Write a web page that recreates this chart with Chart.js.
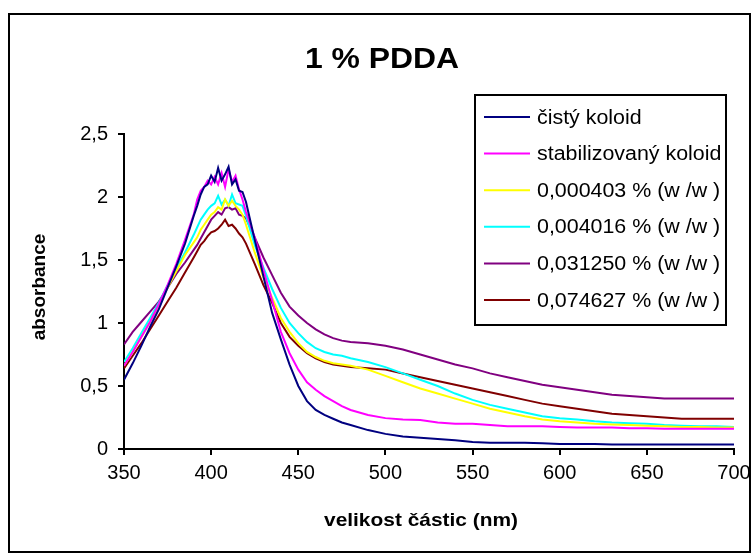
<!DOCTYPE html>
<html>
<head>
<meta charset="utf-8">
<script src="https://cdn.jsdelivr.net/npm/chart.js@4/dist/chart.umd.min.js"></script>
<style>
  html, body { margin: 0; padding: 0; background: #fff; }
  canvas { display: block; }
</style>
</head>
<body>
<canvas id="absChart" width="753" height="558"></canvas>
<script>
// wavelengths (nm) - finer step around the peak
var wavelengths = [
  350, 355, 360, 365, 370, 375, 380, 385, 390,
  392, 394, 396, 398, 400, 402, 404, 406, 408, 410, 412, 414, 416, 418, 420,
  425, 430, 435, 440, 445, 450, 455, 460, 465, 470, 475, 480, 490, 500,
  510, 520, 530, 540, 550, 560, 570, 580, 590, 600, 610, 620, 630, 640, 650, 660, 670, 680, 690, 700
];

var cistyKoloid = [
  0.55, 0.68, 0.82, 0.97, 1.11, 1.28, 1.45, 1.63, 1.85,
  1.93, 2.02, 2.08, 2.10, 2.17, 2.12, 2.23, 2.13, 2.18, 2.24, 2.10, 2.14, 2.05, 2.04, 1.96,
  1.66, 1.37, 1.08, 0.87, 0.67, 0.50, 0.38, 0.31, 0.27, 0.24, 0.21, 0.19, 0.15, 0.12,
  0.10, 0.09, 0.08, 0.07, 0.055, 0.05, 0.05, 0.05, 0.045, 0.04, 0.04, 0.04, 0.035, 0.035, 0.035, 0.035, 0.035, 0.035, 0.035, 0.035
];

var stabilizovany = [
  0.66, 0.77, 0.89, 1.01, 1.15, 1.30, 1.47, 1.66, 1.86,
  1.98, 2.05, 2.08, 2.13, 2.10, 2.16, 2.10, 2.19, 2.08, 2.22, 2.12, 2.17, 2.06, 1.98, 1.88,
  1.68, 1.42, 1.18, 0.93, 0.76, 0.63, 0.53, 0.47, 0.42, 0.38, 0.34, 0.31, 0.27, 0.245,
  0.235, 0.23, 0.21, 0.20, 0.20, 0.19, 0.18, 0.18, 0.18, 0.175, 0.17, 0.17, 0.17, 0.165, 0.165, 0.16, 0.16, 0.16, 0.16, 0.16
];

var pdda000403 = [
  0.66, 0.77, 0.89, 1.01, 1.14, 1.28, 1.41, 1.54, 1.64,
  1.68, 1.74, 1.78, 1.82, 1.86, 1.88, 1.92, 1.90, 1.98, 1.93, 1.97, 1.93, 1.90, 1.86, 1.78,
  1.56, 1.36, 1.20, 1.04, 0.93, 0.84, 0.77, 0.73, 0.70, 0.68, 0.67, 0.66, 0.63, 0.58,
  0.53, 0.48, 0.44, 0.40, 0.36, 0.32, 0.29, 0.26, 0.235, 0.22, 0.21, 0.20, 0.195, 0.19, 0.185, 0.18, 0.175, 0.175, 0.17, 0.17
];

var pdda004016 = [
  0.69, 0.80, 0.92, 1.04, 1.16, 1.30, 1.43, 1.56, 1.70,
  1.76, 1.82, 1.86, 1.90, 1.93, 1.95, 2.01, 1.94, 1.98, 1.93, 2.02, 1.95, 1.94, 1.93, 1.85,
  1.62, 1.44, 1.27, 1.12, 1.00, 0.92, 0.85, 0.80, 0.77, 0.75, 0.74, 0.72, 0.69, 0.65,
  0.60, 0.55, 0.50, 0.44, 0.39, 0.35, 0.32, 0.29, 0.26, 0.245, 0.235, 0.22, 0.21, 0.205, 0.20, 0.19, 0.185, 0.18, 0.18, 0.175
];

var pdda031250 = [
  0.83, 0.93, 1.01, 1.09, 1.17, 1.28, 1.39, 1.48, 1.58,
  1.62, 1.67, 1.72, 1.77, 1.82, 1.85, 1.88, 1.86, 1.91, 1.92, 1.90, 1.91, 1.86, 1.85, 1.83,
  1.68, 1.52, 1.38, 1.24, 1.13, 1.06, 1.00, 0.95, 0.91, 0.88, 0.86, 0.85, 0.84, 0.82,
  0.79, 0.75, 0.71, 0.67, 0.64, 0.60, 0.57, 0.54, 0.51, 0.49, 0.47, 0.45, 0.43, 0.42, 0.41, 0.40, 0.40, 0.40, 0.40, 0.40
];

var pdda074627 = [
  0.64, 0.74, 0.84, 0.95, 1.06, 1.17, 1.28, 1.40, 1.52,
  1.57, 1.62, 1.65, 1.69, 1.72, 1.73, 1.75, 1.78, 1.82, 1.77, 1.78, 1.75, 1.71, 1.68, 1.63,
  1.47, 1.30, 1.16, 1.00, 0.89, 0.82, 0.76, 0.72, 0.69, 0.67, 0.66, 0.65, 0.64, 0.63,
  0.60, 0.57, 0.54, 0.51, 0.48, 0.45, 0.42, 0.39, 0.36, 0.34, 0.32, 0.30, 0.28, 0.27, 0.26, 0.25, 0.24, 0.24, 0.24, 0.24
];

var seriesNames = [
  "čistý koloid",
  "stabilizovaný koloid",
  "0,000403 % (w /w )",
  "0,004016 % (w /w )",
  "0,031250 % (w /w )",
  "0,074627 % (w /w )"
];
var seriesColors = ["#000080", "#ff00ff", "#ffff00", "#00ffff", "#800080", "#800000"];
var seriesValues = [cistyKoloid, stabilizovany, pdda000403, pdda004016, pdda031250, pdda074627];

var yTickLabels = ["0", "0,5", "1", "1,5", "2", "2,5"];

var FONT = "'Liberation Sans', Arial, sans-serif";

function toPoints(values) {
  return wavelengths.map(function (w, i) {
    return { x: w, y: values[i] };
  });
}

var datasets = seriesValues.map(function (vals, i) {
  return {
    label: seriesNames[i],
    data: toPoints(vals),
    borderColor: seriesColors[i],
    backgroundColor: seriesColors[i],
    borderWidth: 2,
    pointRadius: 0,
    tension: 0,
    fill: false
  };
});

// text drawn a bit wider, like the stretched original
function wideText(c, txt, x, y, stretch) {
  c.save();
  c.translate(x, y);
  c.scale(stretch, 1);
  c.fillText(txt, 0, 0);
  c.restore();
}

// frame, title, axis titles and the boxed legend
var decorPlugin = {
  id: "decor",
  afterDraw: function (chart) {
    var c = chart.ctx;
    c.save();

    c.strokeStyle = "#000";
    c.lineWidth = 2;
    c.strokeRect(9, 14, 741, 538);

    c.fillStyle = "#000";
    c.textAlign = "center";
    c.textBaseline = "middle";
    c.font = "bold 29px " + FONT;
    wideText(c, "1 % PDDA", 382, 60, 1.1);

    c.font = "bold 19px " + FONT;
    wideText(c, "velikost částic (nm)", 421, 521, 1.1);

    c.save();
    c.translate(40, 287);
    c.rotate(-Math.PI / 2);
    c.fillText("absorbance", 0, 0);
    c.restore();

    // legend
    var lx = 475, ly = 95, lw = 251, lh = 230;
    c.fillStyle = "#fff";
    c.fillRect(lx, ly, lw, lh);
    c.strokeStyle = "#000";
    c.lineWidth = 2;
    c.strokeRect(lx, ly, lw, lh);

    c.font = "20px " + FONT;
    c.textAlign = "left";
    for (var i = 0; i < seriesNames.length; i++) {
      var rowY = 117 + i * 36.6;
      c.strokeStyle = seriesColors[i];
      c.lineWidth = 2;
      c.beginPath();
      c.moveTo(484, rowY);
      c.lineTo(530, rowY);
      c.stroke();
      c.fillStyle = "#000";
      wideText(c, seriesNames[i], 537, rowY + 1, 1.07);
    }
    c.restore();
  }
};

var ctx = document.getElementById("absChart");

new Chart(ctx, {
  type: "line",
  data: { datasets: datasets },
  plugins: [decorPlugin],
  options: {
    responsive: false,
    animation: false,
    devicePixelRatio: 1,
    layout: { padding: { left: 0, top: 134, right: 19, bottom: 0 } },
    plugins: {
      legend: { display: false },
      title: { display: false },
      tooltip: { enabled: false }
    },
    scales: {
      x: {
        type: "linear",
        min: 350,
        max: 700,
        afterFit: function (scale) {
          scale.height = 109;
          scale.paddingLeft = 0;
          scale.paddingRight = 0;
        },
        ticks: {
          stepSize: 50,
          color: "#000",
          padding: 6,
          maxRotation: 0,
          font: { family: FONT, size: 20 }
        },
        grid: { drawOnChartArea: false, drawTicks: true, tickLength: 6, color: "#000", lineWidth: 2 },
        border: { display: true, color: "#000", width: 2 }
      },
      y: {
        min: 0,
        max: 2.5,
        afterFit: function (scale) {
          scale.width = 124;
          scale.paddingTop = 0;
          scale.paddingBottom = 0;
        },
        ticks: {
          stepSize: 0.5,
          color: "#000",
          padding: 10,
          font: { family: FONT, size: 20 },
          callback: function (value, index) { return yTickLabels[index]; }
        },
        grid: { drawOnChartArea: false, drawTicks: true, tickLength: 6, color: "#000", lineWidth: 2 },
        border: { display: true, color: "#000", width: 2 }
      }
    }
  }
});
</script>
</body>
</html>
